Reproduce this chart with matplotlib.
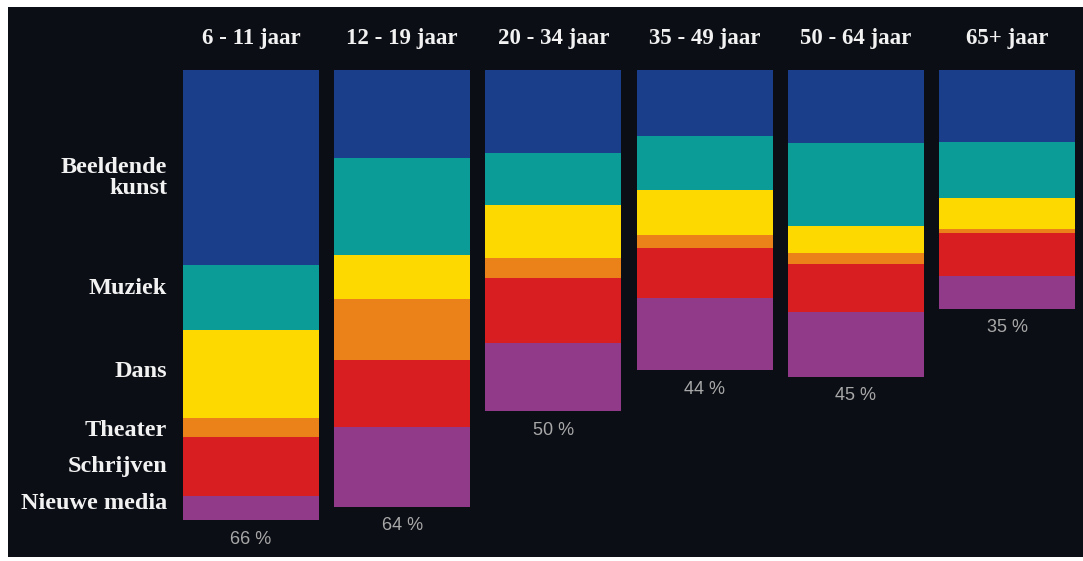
import numpy as np
import matplotlib
matplotlib.use('Agg')
import matplotlib.pyplot as plt
from matplotlib.patches import Rectangle

# leeftijdsgroepen en deelname per kunstvorm (in %)
groups = ['6 - 11 jaar', '12 - 19 jaar', '20 - 34 jaar', '35 - 49 jaar', '50 - 64 jaar', '65+ jaar']
totals = [66, 64, 50, 44, 45, 35]
categories = ['Beeldende\nkunst', 'Muziek', 'Dans', 'Theater', 'Schrijven', 'Nieuwe media']
beeldende_kunst = [28.6, 12.9, 12.2, 9.8, 10.8, 10.6]
muziek = [9.5, 14.2, 7.7, 7.9, 12.1, 8.2]
dans = [12.9, 6.5, 7.7, 6.5, 3.9, 4.5]
theater = [2.8, 8.9, 2.9, 2.0, 1.7, 0.6]
schrijven = [8.7, 9.9, 9.6, 7.3, 7.0, 6.4]
nieuwe_media = [3.5, 11.6, 9.9, 10.5, 9.5, 4.7]

series = [beeldende_kunst, muziek, dans, theater, schrijven, nieuwe_media]
colors = ['#1b3e8b', '#0c9c97', '#fdd900', '#eb8119', '#d91e22', '#913a8a']
bg = '#0b0e15'
# kleine verschuiving van de rijlabels t.o.v. het midden van het vlak
label_nudge = [1.6, -1.3, -0.4, 0.4, 0.0, -0.7]

W, H = 1083, 561
fig = plt.figure(figsize=(W / 100, H / 100), dpi=100, facecolor='white')
fig.patches.append(Rectangle((8 / W, 4 / H), 1 - 8 / W, 550 / H,
                             transform=fig.transFigure, facecolor=bg,
                             edgecolor='none', zorder=-10))

ax = fig.add_axes([175.4 / W, 1 - 547.6 / H, 907.2 / W, 478.1 / H])
ax.set_facecolor('none')
ax.axis('off')

x = np.arange(len(groups))
bottom = np.zeros(len(groups))
for vals, col in zip(series, colors):
    ax.bar(x, vals, width=0.9, bottom=bottom, color=col, linewidth=0)
    bottom += np.array(vals)

ax.set_xlim(-0.5, 5.5)
ax.set_ylim(70, 0)

# kolomkoppen
for i, g in enumerate(groups):
    ax.text(i, -4.6, g, ha='center', va='center', color='#f2f2f2',
            fontsize=16.5, fontweight='bold', family='Liberation Serif')

# percentages onder de kolommen
for i, t in enumerate(totals):
    ax.text(i, bottom[i] + 2.8, f'{t} %', ha='center', va='center',
            color='#a8a8a8', fontsize=13, family='Liberation Sans')

# rijlabels naast eerste kolom
start = 0.0
for lab, vals, nud in zip(categories, series, label_nudge):
    mid = start + vals[0] / 2 + nud
    ax.text(-0.555, mid, lab, ha='right', va='center', color='#f2f2f2',
            fontsize=17.5, fontweight='bold', family='Liberation Serif',
            linespacing=0.95, multialignment='right')
    start += vals[0]

fig.savefig('out.png', dpi=100, facecolor=fig.get_facecolor())
